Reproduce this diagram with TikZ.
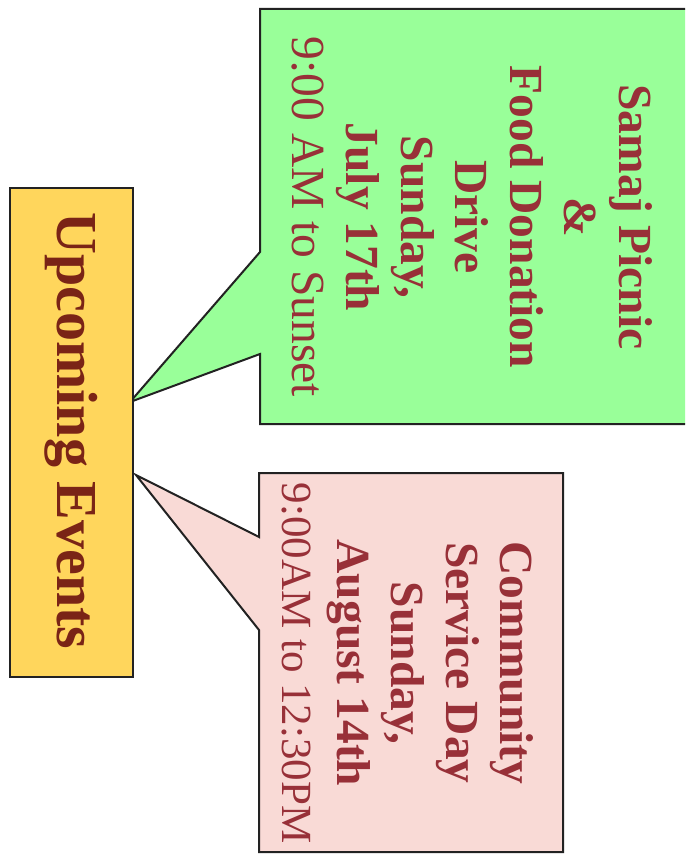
\documentclass[tikz,border=0pt]{standalone}
\usepackage{fontspec}
\setmainfont{Liberation Serif}
\definecolor{boxline}{HTML}{222222}
\definecolor{greenfill}{HTML}{99FF99}
\definecolor{pinkfill}{HTML}{F9DAD6}
\definecolor{yellowfill}{HTML}{FFD65C}
\definecolor{titletext}{HTML}{7A2416}
\definecolor{eventtext}{HTML}{983038}
\tikzset{
  shapebox/.style={draw=boxline, line width=2pt, line join=miter},
  eventlabel/.style={rotate=-90, align=center, text=eventtext, inner sep=0pt,
    font=\fontsize{47.5}{54.5}\selectfont},
  titlelabel/.style={rotate=-90, align=center, text=titletext, inner sep=0pt,
    font=\fontsize{58}{66}\selectfont\bfseries}
}
\begin{document}
\begin{tikzpicture}[x=1pt,y=-1pt]
\useasboundingbox (0,0) rectangle (685,856);
\begin{scope}
\clip (0,0) rectangle (685,856);
% coordinates
\coordinate (gtip) at (130,402);
\coordinate (ptip) at (136,475);
% green callout
\draw[shapebox, fill=greenfill] (260,9) -- (690,9) -- (690,424) -- (260,424) -- (260,354) -- (gtip) -- (260,252) -- cycle;
% pink callout
\draw[shapebox, fill=pinkfill] (259,473) -- (563,473) -- (563,852) -- (259,852) -- (259,630) -- (ptip) -- (259,537) -- cycle;
% yellow box
\draw[shapebox, fill=yellowfill] (10,188) rectangle (133,677);
\end{scope}
\node[titlelabel] (title) at (71.5,431) {Upcoming Events};
\node[eventlabel] (picnic) at (472,217) {\textbf{Samaj Picnic}\\\textbf{\&}\\\textbf{Food Donation}\\\textbf{Drive}\\\textbf{Sunday,}\\\textbf{July 17th}\\9:00 AM to Sunset};
\node[eventlabel] (service) at (408,663) {\textbf{Community}\\\textbf{Service Day}\\\textbf{Sunday,}\\\textbf{August 14th}\\{\fontsize{43}{54.5}\selectfont 9:00AM to 12:30PM}};
\end{tikzpicture}
\end{document}
